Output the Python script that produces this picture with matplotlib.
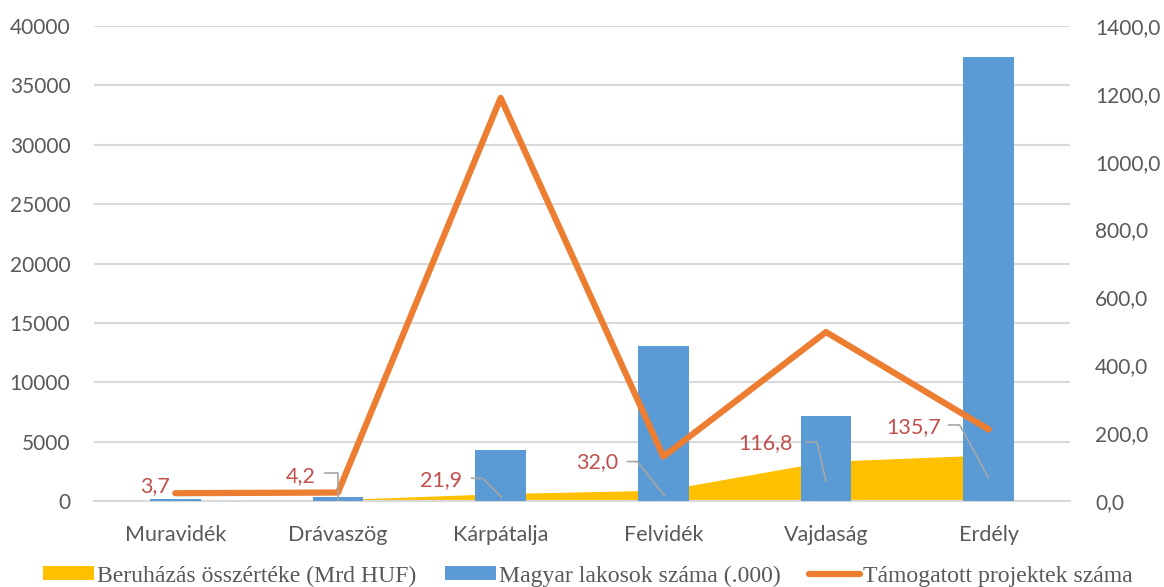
import matplotlib
matplotlib.use('Agg')
import matplotlib.pyplot as plt
from matplotlib.transforms import ScaledTranslation, IdentityTransform
from matplotlib.lines import Line2D
from matplotlib.patches import Patch
import numpy as np

# ---- data ----
categories = ['Muravidék', 'Drávaszög', 'Kárpátalja', 'Felvidék', 'Vajdaság', 'Erdély']
beruhazas = [3.7, 4.2, 21.9, 32.0, 116.8, 135.7]          # right axis (area)
beruhazas_labels = ['3,7', '4,2', '21,9', '32,0', '116,8', '135,7']
lakosok = [150, 300, 4300, 13050, 7150, 37350]             # left axis (bars)
projektek = [23, 25, 1188, 131, 498, 211]                  # right axis (line)
left_ticks = [0, 5000, 10000, 15000, 20000, 25000, 30000, 35000, 40000]
right_ticks = [0, 200, 400, 600, 800, 1000, 1200, 1400]
right_tick_labels = ['0,0', '200,0', '400,0', '600,0', '800,0', '1000,0', '1200,0', '1400,0']
series_names = ['Beruházás összértéke (Mrd HUF)', 'Magyar lakosok száma (.000)',
                'Támogatott projektek száma']

# ---- style ----
YELLOW = '#FFC000'
BLUE = '#5B9BD5'
ORANGE = '#ED7D31'
LABEL_RED = '#C0504D'
TXT = '#595959'
GRID = '#D9D9D9'
SANS = ['Lato', 'DejaVu Sans']
SERIF = ['Liberation Serif', 'DejaVu Serif']

# label layout: (text dx, text dy, leader points) in pixels from anchor
label_layout = [
    ((-20, 14), None),
    ((-37, 24), [(-13, 27), (0, 27), (0, 0)]),
    ((-60, 17), [(-29, 19), (-18, 19), (1, 0)]),
    ((-66, 33), [(-36, 34), (-26, 34), (1, 0)]),
    ((-61, 38), [(-20, 39), (-9, 39), (0, 0)]),
    ((-75, 51), [(-40, 53), (-29, 53), (0, 0)]),
]

fig = plt.figure(figsize=(11.64, 5.87), dpi=100)
rect = [94 / 1164, 86 / 587, 976 / 1164, 475 / 587]
ax = fig.add_axes(rect)          # bars, left ticks
ax2 = ax.twinx()                 # area, right ticks
ax3 = ax.twinx()                 # line + labels

ax2.set_zorder(0)
ax.set_zorder(1)
ax3.set_zorder(2)
for a in (ax, ax2, ax3):
    a.patch.set_visible(False)
    for s in a.spines.values():
        s.set_visible(False)

x = np.arange(len(categories))

# area
ax2.fill_between(x, 0, beruhazas, color=YELLOW, linewidth=0)
# bars
ax.bar(x, lakosok, width=0.31, color=BLUE, zorder=3)
# line
ax3.plot(x, projektek, color=ORANGE, linewidth=4.5, solid_capstyle='round',
         solid_joinstyle='round', zorder=5)

ax.set_xlim(-0.5, len(categories) - 0.5)
ax.set_ylim(0, 40000)
ax2.set_ylim(0, 1400)
ax3.set_ylim(0, 1400)

ax.set_yticks(left_ticks)
ax.set_yticklabels([str(t) for t in left_ticks])
ax.yaxis.grid(True, color=GRID, linewidth=1.5, zorder=0)
ax.set_axisbelow(True)
ax.tick_params(axis='y', length=0, pad=17, labelsize=15, labelcolor=TXT)
ax.set_xticks(x)
ax.set_xticklabels(categories)
ax.tick_params(axis='x', length=0, pad=17, labelsize=15.5, labelcolor=TXT)
for t in ax.get_xticklabels() + ax.get_yticklabels():
    t.set_family(SANS)

ax2.set_yticks(right_ticks)
ax2.set_yticklabels(right_tick_labels)
ax2.tick_params(axis='y', length=0, pad=18, labelsize=15, labelcolor=TXT)
for t in ax2.get_yticklabels():
    t.set_family(SANS)
ax3.set_yticks([])

ax.spines['bottom'].set_visible(True)
ax.spines['bottom'].set_color(GRID)
ax.spines['bottom'].set_linewidth(1.5)

# data labels with leader lines
fig.canvas.draw()
for i, (val, lab) in enumerate(zip(beruhazas, beruhazas_labels)):
    (tdx, tdy), leader = label_layout[i]
    off = ScaledTranslation(tdx / 100, tdy / 100, fig.dpi_scale_trans)
    ax3.text(i, val / 2, lab, transform=ax3.transData + off, ha='center', va='center',
             color=LABEL_RED, fontsize=15.5, family=SANS, zorder=6)
    if leader:
        anchor = ax3.transData.transform((i, val / 2))
        pts = np.array([[anchor[0] + dx, anchor[1] + dy] for dx, dy in leader])
        ln = Line2D(pts[:, 0], pts[:, 1], transform=IdentityTransform(), color='#A6A6A6',
                    linewidth=1.2, zorder=6)
        fig.add_artist(ln)

handles = [Patch(facecolor=YELLOW, edgecolor='none'),
           Patch(facecolor=BLUE, edgecolor='none'),
           Line2D([0], [0], color=ORANGE, linewidth=4.5, solid_capstyle='round')]
leg = fig.legend(handles, series_names, loc='center left', bbox_to_anchor=(43 / 1164, 11 / 587),
                 ncol=3, frameon=False, borderpad=0, borderaxespad=0,
                 handlelength=2.15, handleheight=0.5, handletextpad=0.12, columnspacing=1.2,
                 prop={'family': SERIF, 'size': 17.1})
for t in leg.get_texts():
    t.set_color(TXT)

fig.savefig('out.png', dpi=100)
